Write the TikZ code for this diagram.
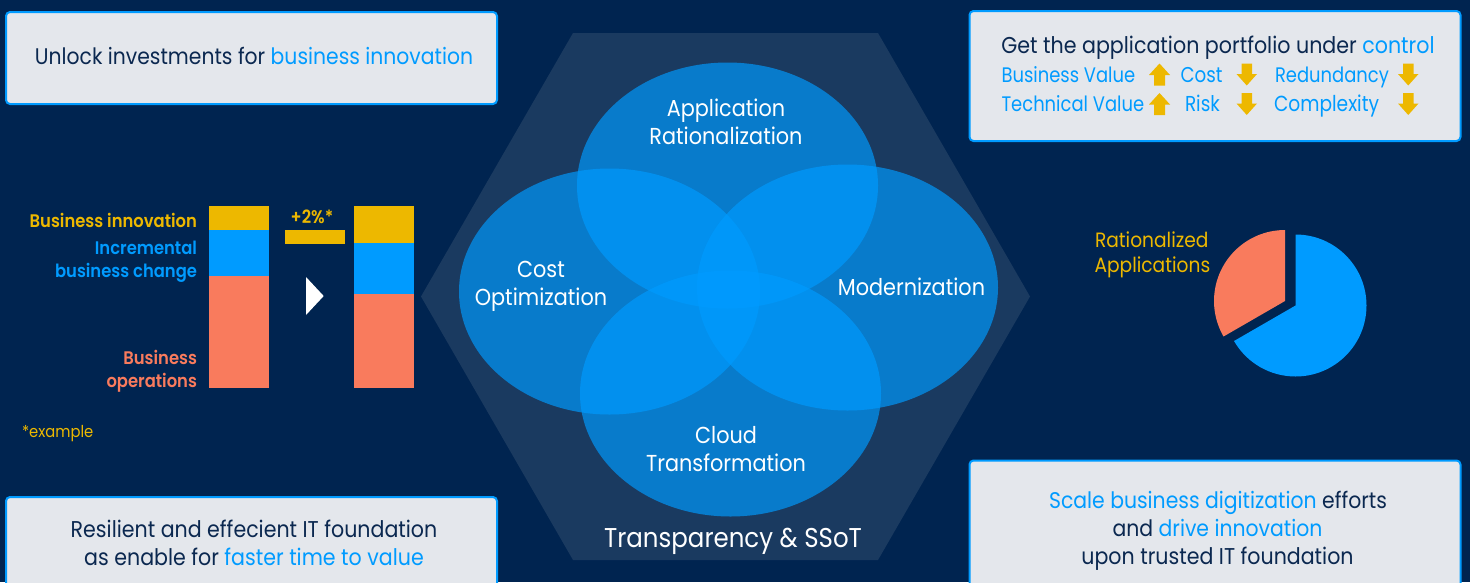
\documentclass[tikz,border=0pt]{standalone}
\usepackage{fontspec}
\setmainfont[FakeStretch=0.9]{Poppins}
\newfontfamily\semifont[FakeStretch=0.9]{Poppins SemiBold}
\newfontfamily\narrowfont[FakeStretch=0.855]{Poppins}
\usetikzlibrary{shapes.geometric}
\definecolor{bgnavy}{HTML}{002450}
\definecolor{hexfill}{HTML}{1A3A60}
\definecolor{skyblue}{HTML}{009BFF}
\definecolor{goldy}{HTML}{EDB800}
\definecolor{coral}{HTML}{F97B5D}
\definecolor{boxfill}{HTML}{E4E7EC}
\definecolor{inkdark}{HTML}{0B2850}
\newcommand{\sz}[1]{\fontsize{#1}{#1}\selectfont}
\newcommand{\hl}[1]{\textcolor{skyblue}{#1}}
\tikzset{
  x=1pt,y=-1pt,
  panel/.style={draw=skyblue,line width=2pt,fill=boxfill,rounded corners=4pt,minimum height=#1,inner sep=0pt,minimum width=491pt},
  venn/.style={ellipse,fill=skyblue,fill opacity=0.68,minimum width=301pt,minimum height=246pt,inner sep=0pt},
  txt/.style={inner sep=0pt,outer sep=0pt,anchor=base},
  boxtxt/.style={txt,text=inkdark,font=\sz{22.85}},
  kpi/.style={txt,anchor=base west,text=skyblue,font=\narrowfont\sz{21}},
  vennlab/.style={txt,text=white,font=\sz{23.1}},
  barlab/.style={txt,anchor=base east,font=\semifont\sz{18.2}},
  ratlab/.style={txt,anchor=base west,text=goldy,font=\sz{20.7}},
  uparrow/.style={fill=goldy},
  downarrow/.style={fill=goldy}
}
\newcommand{\uparr}[2]{\fill[uparrow] (#1,#2) -- (#1+10.5,#2-11.5) -- (#1+21,#2) -- (#1+16,#2) -- (#1+16,#2+10.5) -- (#1+5,#2+10.5) -- (#1+5,#2) -- cycle;}
\newcommand{\dnarr}[2]{\fill[downarrow] (#1,#2) -- (#1+10.25,#2+11.5) -- (#1+20.5,#2) -- (#1+15.5,#2) -- (#1+15.5,#2-10.5) -- (#1+5,#2-10.5) -- (#1+5,#2) -- cycle;}
\begin{document}
\begin{tikzpicture}
\useasboundingbox (0,0) rectangle (1470,582);
\clip (0,0) rectangle (1470,582);
\fill[bgnavy] (0,0) rectangle (1470,582);
% hexagon
\fill[hexfill] (421,296.5) -- (573,33) -- (878,33) -- (1030,296.5) -- (878,560) -- (573,560) -- cycle;
% venn
\node[venn] (vtop) at (727.5,185.5) {};
\node[venn] (vleft) at (609.5,291.5) {};
\node[venn] (vright) at (847.5,287.5) {};
\node[venn] (vbottom) at (730.5,393.5) {};
\node[vennlab] (t1) at (726,116.5) {Application};
\node[vennlab] (t2) at (726,144) {Rationalization};
\node[vennlab] (t3) at (541,277) {Cost};
\node[vennlab] (t4) at (541,305) {Optimization};
\node[vennlab] (t5) at (911.5,295) {Modernization};
\node[vennlab] (t6) at (726,443) {Cloud};
\node[vennlab] (t7) at (726,471) {Transformation};
\node[vennlab,font=\sz{27.2}] (t8) at (733,547) {Transparency \& SSoT};
% panels
\node[panel=92pt] (ptl) at (251.5,58) {};
\node[panel=130pt] (ptr) at (1215,76) {};
\node[panel=100pt] (pbl) at (251.5,547) {};
\node[panel=140pt] (pbr) at (1215,530.5) {};
\node[boxtxt,font=\sz{22.6}] (b1) at (254,64) {Unlock investments for \hl{business innovation}};
\node[boxtxt,font=\sz{22.9}] (b2) at (1218,53) {Get the application portfolio under \hl{control}};
\node[boxtxt] (b3) at (254,537) {Resilient and effecient IT foundation};
\node[boxtxt] (b4) at (254,565) {as enable for \hl{faster time to value}};
\node[boxtxt,font=\sz{22.65}] (b5) at (1218,508.5) {\hl{Scale business digitization} efforts};
\node[boxtxt,font=\sz{22.65}] (b6) at (1217.5,536.5) {and \hl{drive innovation}};
\node[boxtxt] (b7) at (1217.5,564) {upon trusted IT foundation};
% KPIs
\node[kpi] (k1) at (1001.5,82) {Business Value};
\node[kpi,font=\narrowfont\sz{21.4}] (k2) at (1180.5,82) {Cost};
\node[kpi] (k3) at (1275,82) {Redundancy};
\node[kpi] (k4) at (1001.5,111) {Technical Value};
\node[kpi,font=\narrowfont\sz{21.6}] (k5) at (1185,111) {Risk};
\node[kpi,font=\narrowfont\sz{21.8}] (k6) at (1274,111) {Complexity};
\uparr{1149}{75}
\uparr{1149}{104.5}
\dnarr{1236.5}{74}
\dnarr{1236.5}{103.5}
\dnarr{1398}{74}
\dnarr{1398}{103.5}
% bars
\fill[goldy] (209,206) rectangle (269,230);
\fill[skyblue] (209,230) rectangle (269,276);
\fill[coral] (209,276) rectangle (269,388);
\fill[goldy] (354,206) rectangle (414,243);
\fill[skyblue] (354,243) rectangle (414,294);
\fill[coral] (354,294) rectangle (414,388);
\fill[goldy] (285,230) rectangle (345,244);
\fill[white] (306,277) -- (323.7,296) -- (306,315) -- cycle;
\node[barlab,text=goldy] (l1) at (197,227.7) {Business innovation};
\node[barlab,text=skyblue] (l2) at (197,254) {Incremental};
\node[barlab,text=skyblue] (l3) at (197,277) {business change};
\node[barlab,text=coral] (l4) at (197,364) {Business};
\node[barlab,text=coral] (l5) at (197,387) {operations};
\node[txt,text=goldy,font=\semifont\sz{18.2}] (l6) at (312,223) {+2\%*};
\node[txt,anchor=base west,text=goldy,font=\sz{16.4}] (l7) at (22,437.7) {*example};
% pie
\fill[skyblue] (1295.5,305.5) -- (1295.5,234.5) arc[start angle=-90,end angle=150,radius=71] -- cycle;
\fill[coral] (1285,301) -- (1285,230) arc[start angle=-90,end angle=-210,radius=71] -- cycle;
\node[ratlab] (r1) at (1095,247) {Rationalized};
\node[ratlab] (r2) at (1094.5,272.5) {Applications};
\end{tikzpicture}
\end{document}
